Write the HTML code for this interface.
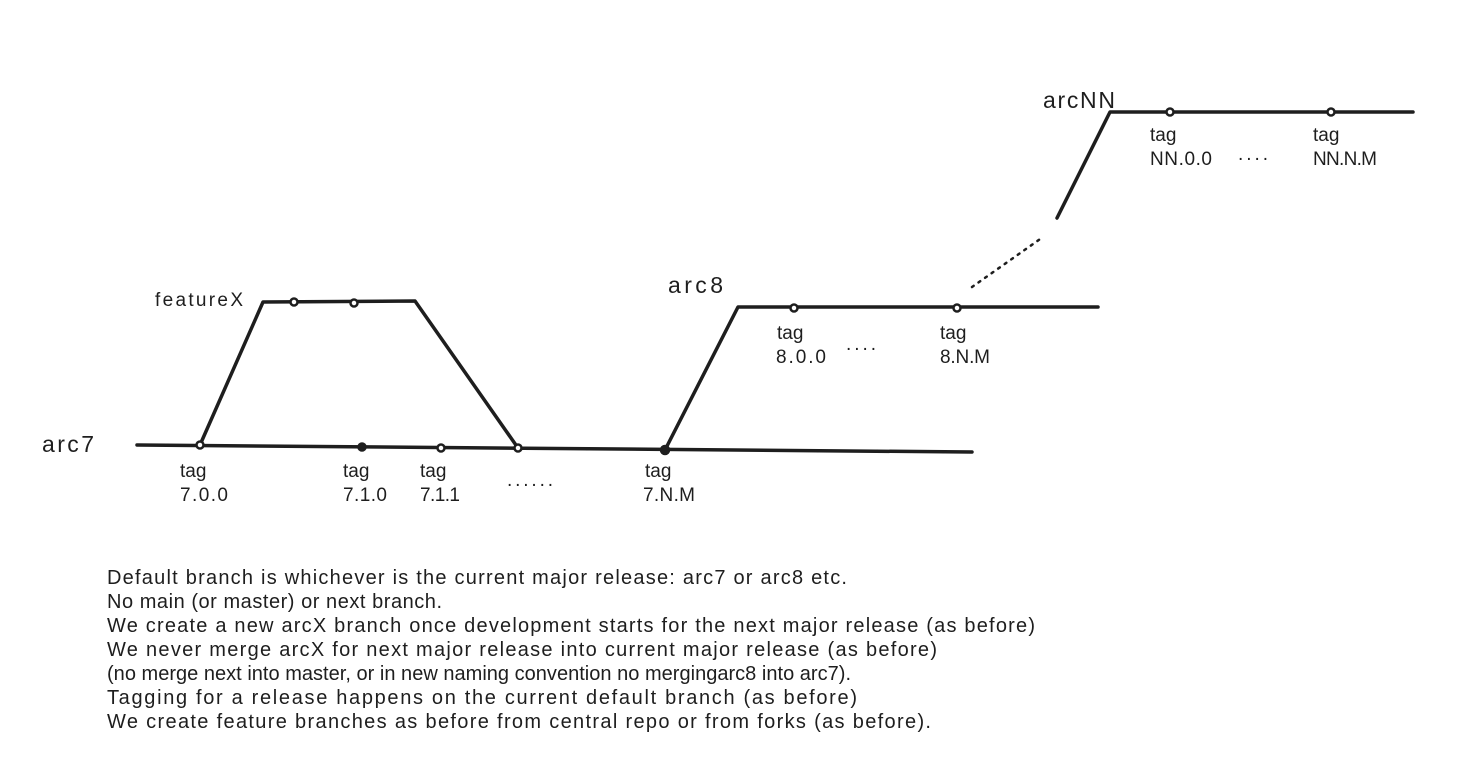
<!DOCTYPE html>
<html><head><meta charset="utf-8"><style>html,body{margin:0;padding:0;background:#fff;}svg{display:block}</style></head>
<body>
<svg width="1458" height="773" viewBox="0 0 1458 773" xmlns="http://www.w3.org/2000/svg" font-family="'Liberation Sans', sans-serif" fill="#1e1e1e">
<g stroke="#1e1e1e" stroke-width="3.5" fill="none" stroke-linecap="round" stroke-linejoin="round">
<path d="M137 445 L972 452"/>
<path d="M200 445 L263 302 L415 301 L518 448"/>
<path d="M665 450 L738 307 L1098 307"/>
<path d="M1057 218 L1110 112 L1413 112"/>
<path d="M972 287 L1043 237" stroke-width="2.5" stroke-dasharray="2 6"/>
</g>
<g stroke="#1e1e1e" stroke-width="2.5" fill="#fff">
<circle cx="200" cy="445" r="3.5"/><circle cx="362" cy="447" r="3.5" fill="#1e1e1e"/><circle cx="441" cy="448" r="3.5"/><circle cx="518" cy="448" r="3.5"/><circle cx="665" cy="450" r="4" fill="#1e1e1e"/>
<circle cx="294" cy="302" r="3.5"/><circle cx="354" cy="303" r="3.5"/>
<circle cx="794" cy="308" r="3.5"/><circle cx="957" cy="308" r="3.5"/>
<circle cx="1170" cy="112" r="3.5"/><circle cx="1331" cy="112" r="3.5"/>
</g>
<g font-size="23">
<text x="42" y="452" textLength="52">arc7</text>
<text x="668" y="293" textLength="55">arc8</text>
<text x="1043" y="108" textLength="72">arcNN</text>
</g>
<g font-size="19">
<text x="155" y="306" textLength="88">featureX</text>
<text x="180" y="477">tag</text><text x="180" y="501" textLength="48">7.0.0</text>
<text x="343" y="477">tag</text><text x="343" y="501" textLength="44">7.1.0</text>
<text x="420" y="477">tag</text><text x="420" y="501" textLength="40">7.1.1</text>
<text x="507" y="486" textLength="46">......</text>
<text x="645" y="477">tag</text><text x="643" y="501" textLength="52">7.N.M</text>
<text x="777" y="339">tag</text><text x="776" y="363" textLength="50">8.0.0</text>
<text x="846" y="350" textLength="30">....</text>
<text x="940" y="339">tag</text><text x="940" y="363" textLength="50">8.N.M</text>
<text x="1150" y="141">tag</text><text x="1150" y="165" textLength="62">NN.0.0</text>
<text x="1238" y="160" textLength="30">....</text>
<text x="1313" y="141">tag</text><text x="1313" y="165" textLength="64">NN.N.M</text>
</g>
<g font-size="20">
<text x="107" y="584" textLength="740">Default branch is whichever is the current major release: arc7 or arc8 etc.</text>
<text x="107" y="608" textLength="335">No main (or master) or next branch.</text>
<text x="107" y="632" textLength="928">We create a new arcX branch once development starts for the next major release (as before)</text>
<text x="107" y="656" textLength="830">We never merge arcX for next major release into current major release  (as before)</text>
<text x="107" y="680" textLength="744">(no merge next into master, or in new naming convention no mergingarc8 into arc7).</text>
<text x="107" y="704" textLength="750">Tagging for a release happens on the current default branch (as before)</text>
<text x="107" y="728" textLength="824">We create feature branches as before from central repo or from forks (as before).</text>
</g>
</svg>
</body></html>
